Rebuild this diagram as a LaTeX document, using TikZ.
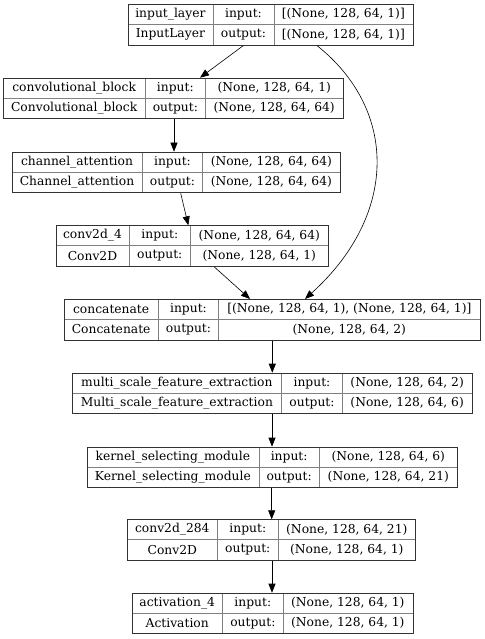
\documentclass[tikz,border=0pt]{standalone}
\usepackage{fontspec}
\setmainfont{DejaVu Serif}
\usetikzlibrary{arrows.meta}

\tikzset{
  layerbox/.style={draw=black!80,line width=0.9pt,inner sep=0pt,anchor=north west},
  cellline/.style={draw=black!50,line width=0.9pt},
  celltext/.style={inner sep=0pt,font=\fontsize{12.3}{14}\selectfont},
  flow/.style={-{Triangle[length=9pt,width=7pt]},line width=0.6pt}
}

% frame of one layer: name, left, top, first divider, second divider, right
\newcommand{\layerframe}[6]{
  \draw[cellline] (#4,#3) -- ++(0,40.7) (#5,#3) -- ++(0,40.7) (#2,#3+20.35) -- (#6,#3+20.35);
  \node[layerbox,minimum width={(#6-#2)*1pt},minimum height=40.7pt] (#1) at (#2,#3) {};
  \node[celltext] (#1-inlabel) at ({(#4+#5)/2},#3+10.2) {input:};
  \node[celltext] (#1-outlabel) at ({(#4+#5)/2},#3+30.5) {output:};
  \coordinate (#1-a) at ({(#2+#4)/2},#3+10.2);
  \coordinate (#1-b) at ({(#2+#4)/2},#3+30.5);
  \coordinate (#1-c) at ({(#5+#6)/2},#3+10.2);
  \coordinate (#1-d) at ({(#5+#6)/2},#3+30.5);
}
% texts of one layer: name, layer name, class, input shape, output shape
\newcommand{\layertext}[5]{
  \node[celltext] (#1-name) at (#1-a) {#2};
  \node[celltext] (#1-class) at (#1-b) {#3};
  \node[celltext] (#1-inshape) at (#1-c) {#4};
  \node[celltext] (#1-outshape) at (#1-d) {#5};
}

\begin{document}
\begin{tikzpicture}[x=1pt,y=-1pt]
  \useasboundingbox (0,0) rectangle (484,639);

  \layerframe{inlayer}{127.7}{4}{213}{274}{412.7}
  \layertext{inlayer}{input\_layer}{InputLayer}{[(None, 128, 64, 1)]}{[(None, 128, 64, 1)]}

  \layerframe{convblock}{3.3}{77.7}{145}{205.7}{342.7}
  \layertext{convblock}{convolutional\_block}{Convolutional\_block}{(None, 128, 64, 1)}{(None, 128, 64, 64)}

  \layerframe{chanatt}{11.7}{151.7}{142.3}{202.7}{340}
  \layertext{chanatt}{channel\_attention}{Channel\_attention}{(None, 128, 64, 64)}{(None, 128, 64, 64)}

  \layerframe{convfour}{55.7}{225.3}{129.3}{190.3}{328.3}
  \layertext{convfour}{conv2d\_4}{Conv2D}{(None, 128, 64, 64)}{(None, 128, 64, 1)}

  \layerframe{concat}{64}{299}{158.3}{218.7}{480}
  \layertext{concat}{concatenate}{Concatenate}{[(None, 128, 64, 1), (None, 128, 64, 1)]}{(None, 128, 64, 2)}

  \layerframe{multiscale}{72}{372.7}{281.7}{342.3}{472}
  \layertext{multiscale}{multi\_scale\_feature\_extraction}{Multi\_scale\_feature\_extraction}{(None, 128, 64, 2)}{(None, 128, 64, 6)}

  \layerframe{kernelsel}{86.7}{446.7}{259}{319.3}{457.3}
  \layertext{kernelsel}{kernel\_selecting\_module}{Kernel\_selecting\_module}{(None, 128, 64, 6)}{(None, 128, 64, 21)}

  \layerframe{convlast}{127.3}{519.3}{217.3}{278.3}{415.3}
  \layertext{convlast}{conv2d\_284}{Conv2D}{(None, 128, 64, 21)}{(None, 128, 64, 1)}

  \layerframe{activ}{131.7}{592.7}{222.7}{283}{412.7}
  \layertext{activ}{activation\_4}{Activation}{(None, 128, 64, 1)}{(None, 128, 64, 1)}

  % connectors
  \draw[flow] ([xshift=115.6]inlayer.south west) -- ([xshift=196.7]convblock.north west);
  \draw[flow] ([xshift=189.3]inlayer.south west) .. controls (398,110) and (398,215) .. ([xshift=241]concat.north west);
  \draw[flow] ([xshift=170.7]convblock.south west) -- ([xshift=162.3]chanatt.north west);
  \draw[flow] ([xshift=169]chanatt.south west) -- ([xshift=132.6]convfour.north west);
  \draw[flow] ([xshift=158.6]convfour.south west) -- ([xshift=186]concat.north west);
  \draw[flow] ([xshift=208.3]concat.south west) -- ([xshift=200.3]multiscale.north west);
  \draw[flow] ([xshift=200]multiscale.south west) -- ([xshift=185.3]kernelsel.north west);
  \draw[flow] ([xshift=185]kernelsel.south west) -- ([xshift=144.4]convlast.north west);
  \draw[flow] ([xshift=144.7]convlast.south west) -- ([xshift=140.3]activ.north west);
\end{tikzpicture}
\end{document}
